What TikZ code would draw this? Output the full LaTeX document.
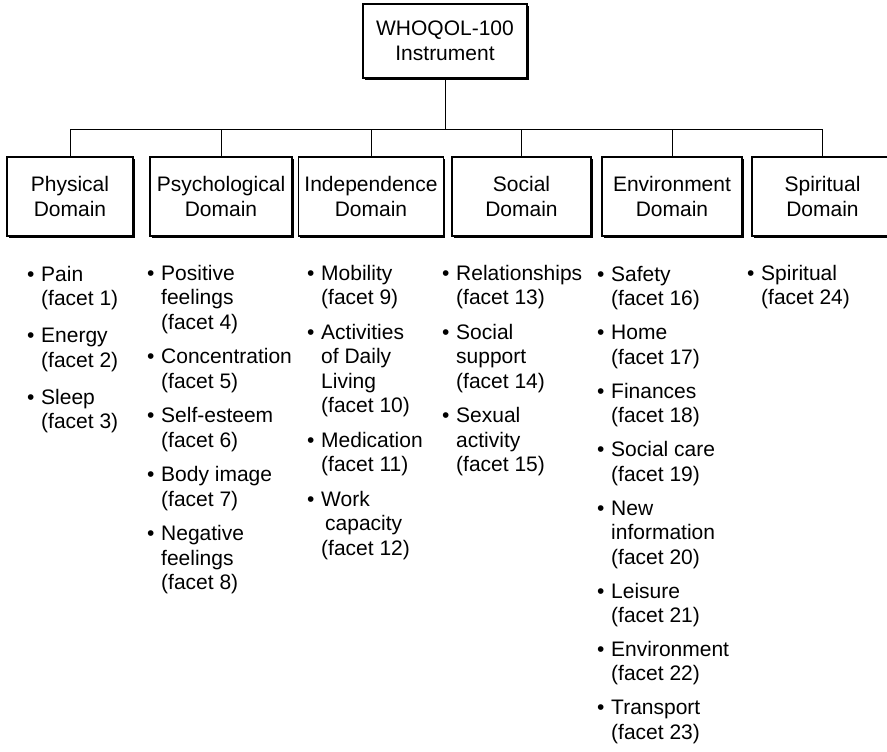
\documentclass[tikz,border=0pt]{standalone}
\usepackage{fontspec}
\setmainfont{Liberation Sans}
\usetikzlibrary{shadows,calc}
\begin{document}
\begin{tikzpicture}[x=1pt,y=-1pt,
  box/.style={draw, line width=1.1pt, fill=white, align=center, inner sep=0pt,
    font=\fontsize{21}{25}\selectfont,
    drop shadow={shadow xshift=1.6pt, shadow yshift=-1.6pt, fill=black, opacity=1}},
  dom/.style={box, minimum width=#1, minimum height=79pt},
  facets/.style={anchor=base west, inner sep=0pt, font=\fontsize{21}{24.5}\selectfont},
  wire/.style={line width=0.9pt}]
\useasboundingbox (0,0) rectangle (887,752);

\node[box, minimum width=164pt, minimum height=74pt] (top) at (445,41) {WHOQOL-100\\Instrument};

\node[dom=126pt] (phys)  at (70,196.5)   {Physical\\Domain};
\node[dom=142pt] (psych) at (221,196.5)  {Psychological\\Domain};
\node[dom=145pt] (indep) at (371,196.5)  {Independence\\Domain};
\node[dom=139pt] (soc)   at (521.5,196.5){Social\\Domain};
\node[dom=140pt] (env)   at (672,196.5)  {Environment\\Domain};
\node[box, minimum width=160pt, minimum height=79pt, text width=160pt, align=left] (spir) at (832,196.5)
  {\makebox[141pt][c]{Spiritual}\\\makebox[141pt][c]{Domain}};
\coordinate (spirtop) at ($(spir.north west)+(71,0)$);

\coordinate (bus) at (0,129);
\foreach \d in {phys,psych,indep,soc,env,spirtop}
  \draw[wire] (top.south) -- (top.south |- bus) -| (\d);

\node[facets] (fphys) at (27,281) {\begin{tabular}[t]{@{}p{14pt}@{}l@{}}
\textbullet & Pain\\ & (facet 1)\\[12.5pt]
\textbullet & Energy\\ & (facet 2)\\[12.5pt]
\textbullet & Sleep\\ & (facet 3)
\end{tabular}};

\node[facets] (fpsych) at (147,280) {\begin{tabular}[t]{@{}p{14pt}@{}l@{}}
\textbullet & Positive\\ & feelings\\ & (facet 4)\\[10pt]
\textbullet & Concentration\\ & (facet 5)\\[10pt]
\textbullet & Self-esteem\\ & (facet 6)\\[10pt]
\textbullet & Body image\\ & (facet 7)\\[10pt]
\textbullet & Negative\\ & feelings\\ & (facet 8)
\end{tabular}};

\node[facets] (findep) at (307,280) {\begin{tabular}[t]{@{}p{14pt}@{}l@{}}
\textbullet & Mobility\\ & (facet 9)\\[10pt]
\textbullet & Activities\\ & of Daily\\ & Living\\ & (facet 10)\\[10pt]
\textbullet & Medication\\ & (facet 11)\\[10pt]
\textbullet & Work\\ & \hspace{4pt}capacity\\ & (facet 12)
\end{tabular}};

\node[facets] (fsoc) at (442,280) {\begin{tabular}[t]{@{}p{14pt}@{}l@{}}
\textbullet & Relationships\\ & (facet 13)\\[10pt]
\textbullet & Social\\ & support\\ & (facet 14)\\[10pt]
\textbullet & Sexual\\ & activity\\ & (facet 15)
\end{tabular}};

\node[facets] (fenv) at (597,281) {\begin{tabular}[t]{@{}p{14pt}@{}l@{}}
\textbullet & Safety\\ & (facet 16)\\[9.5pt]
\textbullet & Home\\ & (facet 17)\\[9.5pt]
\textbullet & Finances\\ & (facet 18)\\[9.5pt]
\textbullet & Social care\\ & (facet 19)\\[9.5pt]
\textbullet & New\\ & information\\ & (facet 20)\\[9.5pt]
\textbullet & Leisure\\ & (facet 21)\\[9.5pt]
\textbullet & Environment\\ & (facet 22)\\[9.5pt]
\textbullet & Transport\\ & (facet 23)
\end{tabular}};

\node[facets] (fspir) at (747,280) {\begin{tabular}[t]{@{}p{14pt}@{}l@{}}
\textbullet & Spiritual\\ & (facet 24)
\end{tabular}};
\end{tikzpicture}
\end{document}
